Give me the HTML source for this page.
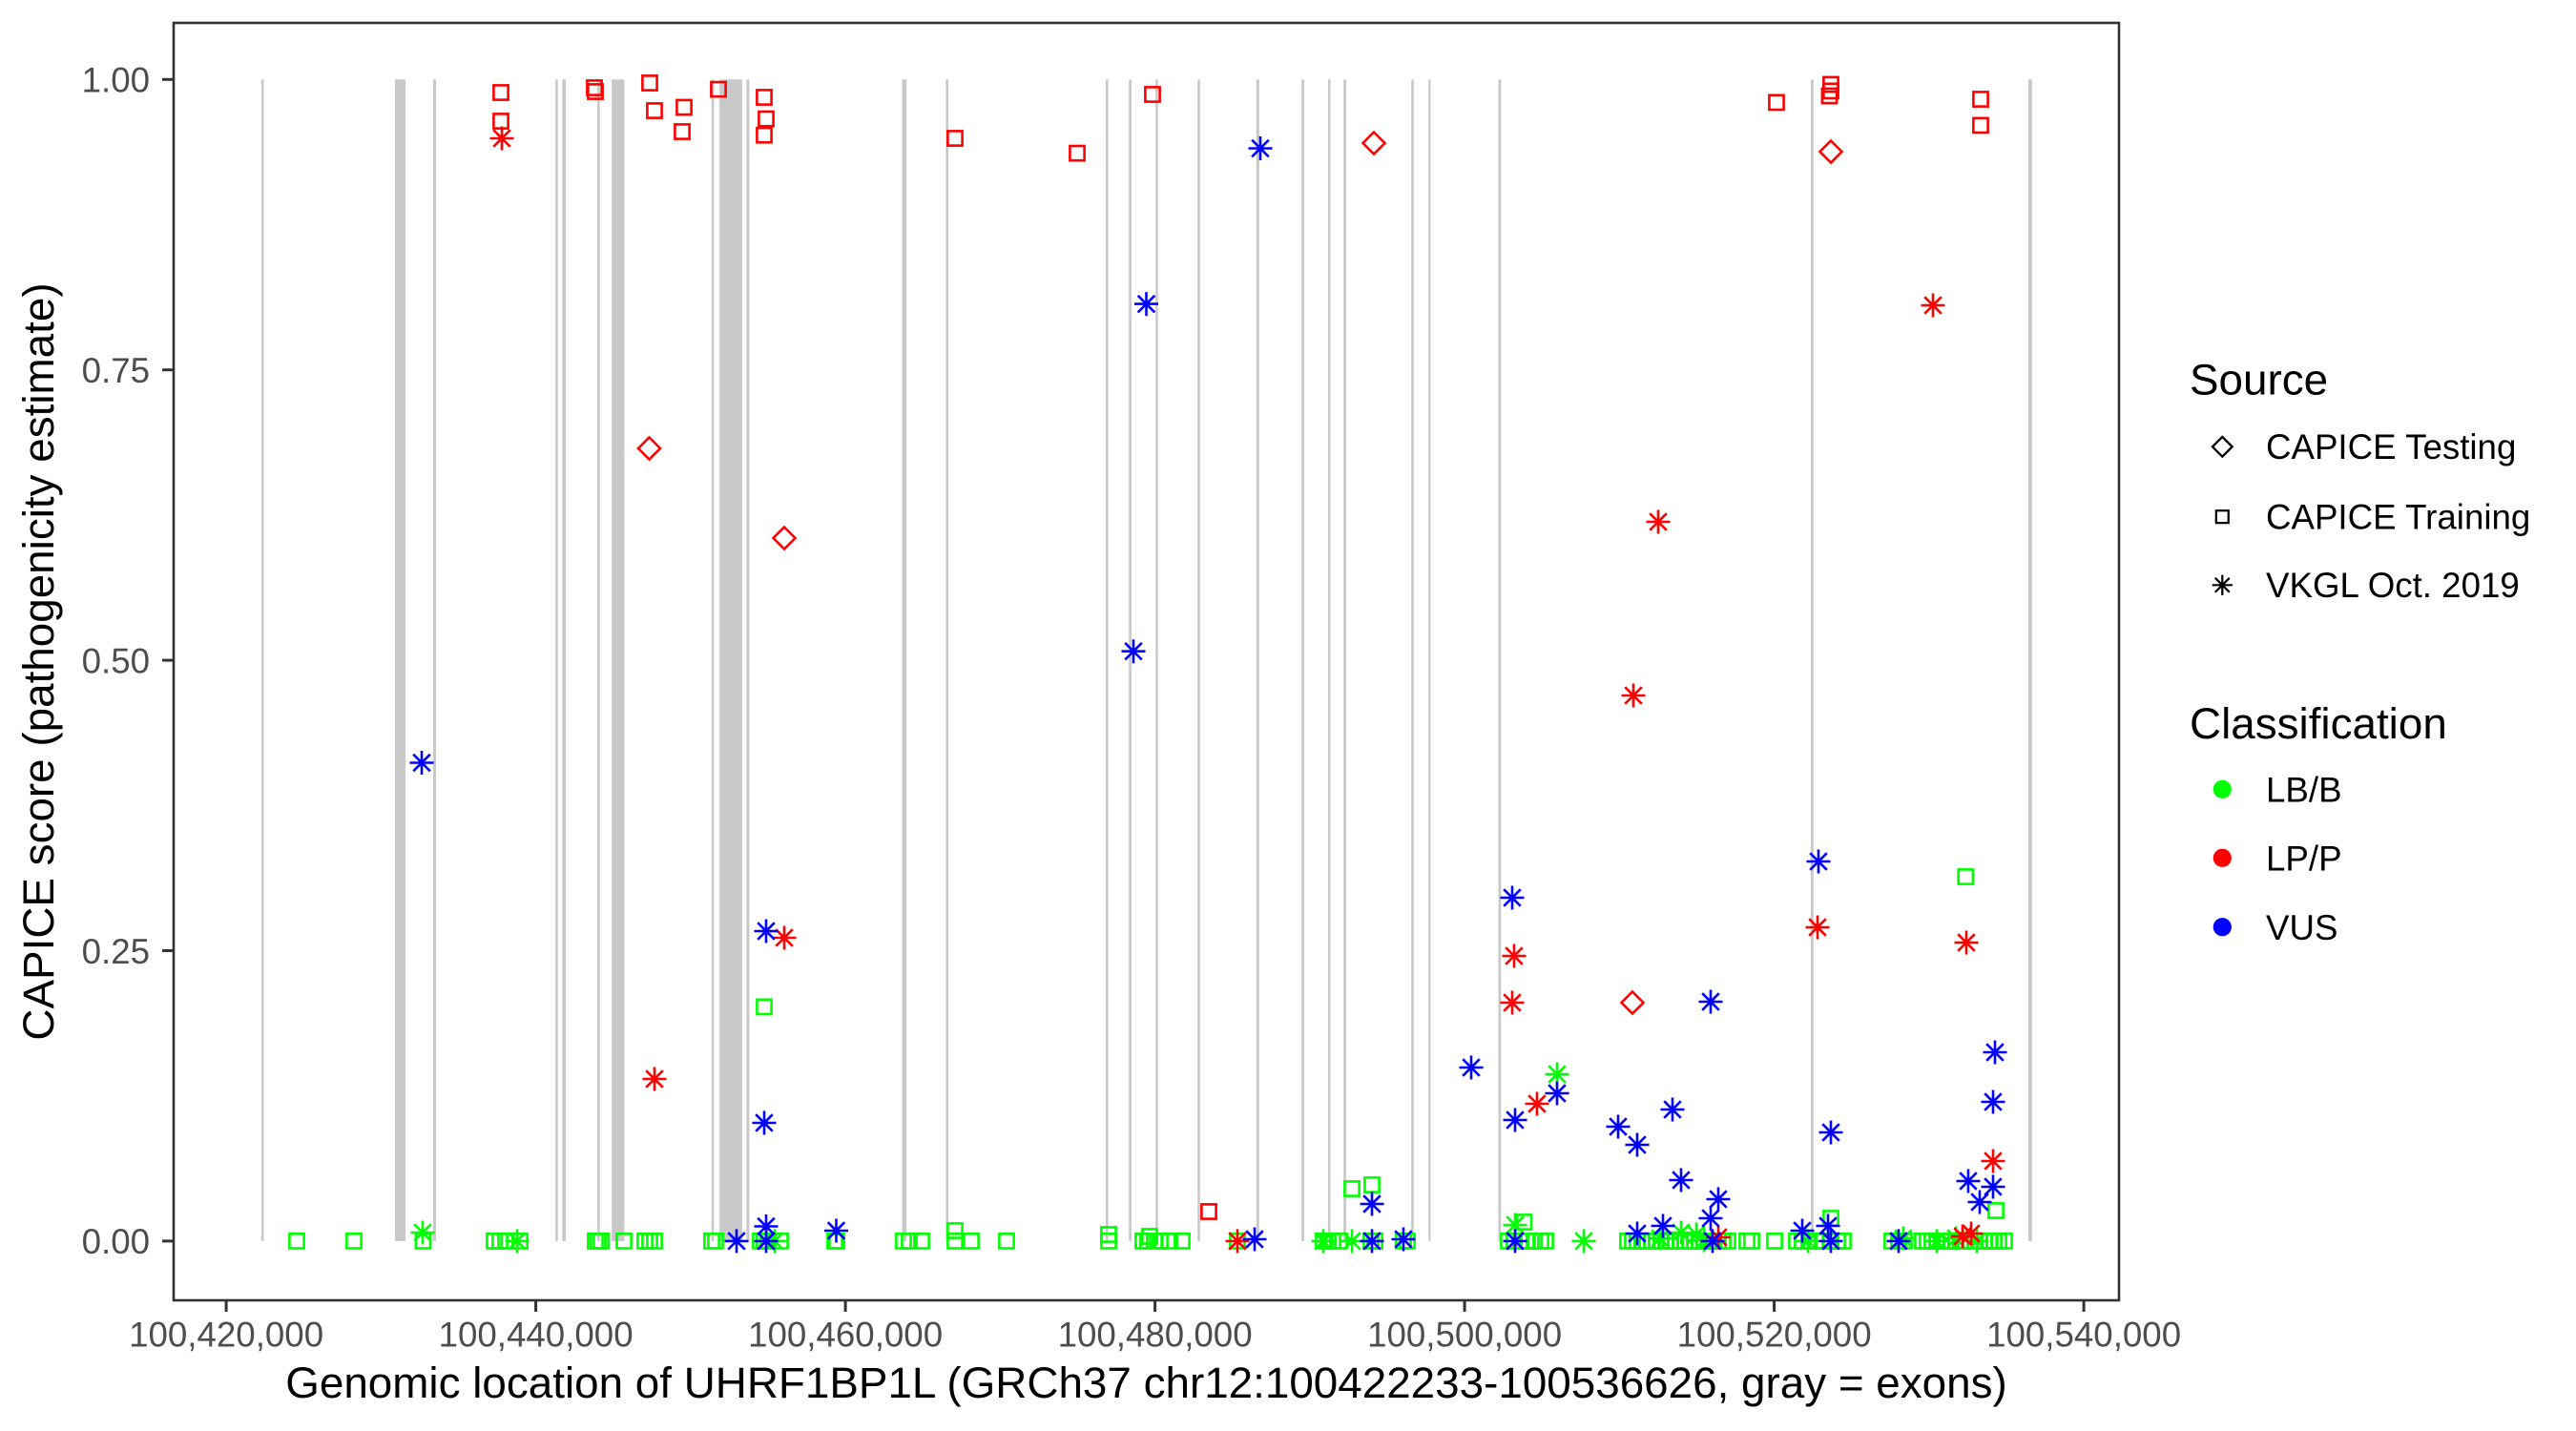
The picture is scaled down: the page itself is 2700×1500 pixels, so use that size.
<!DOCTYPE html>
<html><head><meta charset="utf-8"><style>
html,body{margin:0;padding:0;background:#fff;}
svg{display:block;}
text{font-family:"Liberation Sans",Arial,sans-serif;}
</style></head><body>
<svg width="2700" height="1500" viewBox="0 0 2700 1500" xmlns="http://www.w3.org/2000/svg">
<defs>
<rect id="s" x="-7.6" y="-7.6" width="15.2" height="15.2" fill="none"/>
<path id="d" d="M0,-11.5L11.5,0L0,11.5L-11.5,0Z" fill="none"/>
<path id="a" d="M-8.8,-8.8L8.8,8.8M-8.8,8.8L8.8,-8.8M-12.5,0H12.5M0,-12.5V12.5" fill="none"/>
</defs>
<rect width="2700" height="1500" fill="#fff"/>
<!-- exons -->
<g fill="#c8c8c8">
<rect x="274" y="83.3" width="2.5" height="1217.6"/>
<rect x="414" y="83.3" width="11" height="1217.6"/>
<rect x="454" y="83.3" width="3" height="1217.6"/>
<rect x="582.2" y="83.3" width="2.5" height="1217.6"/>
<rect x="589.3" y="83.3" width="3.8" height="1217.6"/>
<rect x="626.1" y="83.3" width="2.6" height="1217.6"/>
<rect x="641.2" y="83.3" width="13.2" height="1217.6"/>
<rect x="745.8" y="83.3" width="2.5" height="1217.6"/>
<rect x="754.2" y="83.3" width="23.7" height="1217.6"/>
<rect x="782.4" y="83.3" width="3" height="1217.6"/>
<rect x="945.5" y="83.3" width="4.6" height="1217.6"/>
<rect x="991.4" y="83.3" width="2.6" height="1217.6"/>
<rect x="1159" y="83.3" width="2.6" height="1217.6"/>
<rect x="1183.3" y="83.3" width="2.6" height="1217.6"/>
<rect x="1211.2" y="83.3" width="2.5" height="1217.6"/>
<rect x="1255.2" y="83.3" width="2.6" height="1217.6"/>
<rect x="1316.8" y="83.3" width="3" height="1217.6"/>
<rect x="1364.2" y="83.3" width="2.8" height="1217.6"/>
<rect x="1392" y="83.3" width="2.5" height="1217.6"/>
<rect x="1408.2" y="83.3" width="2.8" height="1217.6"/>
<rect x="1479.2" y="83.3" width="2.6" height="1217.6"/>
<rect x="1497.2" y="83.3" width="2.3" height="1217.6"/>
<rect x="1570.5" y="83.3" width="2.8" height="1217.6"/>
<rect x="1898" y="83.3" width="2.8" height="1217.6"/>
<rect x="2126" y="83.3" width="3.8" height="1217.6"/>
</g>
<!-- green points -->
<g stroke="#00ff00" stroke-width="2.6">
<use href="#s" x="311" y="1300.9"/><use href="#s" x="371" y="1300.9"/><use href="#s" x="443.5" y="1300.9"/>
<use href="#s" x="518" y="1300.9"/><use href="#s" x="524" y="1300.9"/><use href="#s" x="530" y="1300.9"/><use href="#s" x="545" y="1300.9"/>
<use href="#s" x="624" y="1300.9"/><use href="#s" x="627" y="1300.9"/><use href="#s" x="630" y="1300.9"/><use href="#s" x="654" y="1300.9"/>
<use href="#s" x="676" y="1300.9"/><use href="#s" x="681" y="1300.9"/><use href="#s" x="686" y="1300.9"/><use href="#s" x="746" y="1300.9"/><use href="#s" x="750" y="1300.9"/>
<use href="#s" x="797" y="1300.9"/><use href="#s" x="801" y="1300.9"/><use href="#s" x="805" y="1300.9"/><use href="#s" x="818" y="1300.9"/>
<use href="#s" x="875" y="1300.9"/><use href="#s" x="877" y="1300.9"/><use href="#s" x="947" y="1300.9"/><use href="#s" x="953" y="1300.9"/><use href="#s" x="966" y="1300.9"/>
<use href="#s" x="1001" y="1300.9"/><use href="#s" x="1001" y="1290"/><use href="#s" x="1018" y="1300.9"/><use href="#s" x="1055" y="1300.9"/>
<use href="#s" x="1162" y="1300.9"/><use href="#s" x="1162" y="1294"/><use href="#s" x="1198" y="1300.9"/><use href="#s" x="1203" y="1300.9"/>
<use href="#s" x="1205" y="1296"/><use href="#s" x="1210" y="1300.9"/><use href="#s" x="1216" y="1300.9"/><use href="#s" x="1226" y="1300.9"/><use href="#s" x="1239" y="1300.9"/>
<use href="#s" x="1297" y="1300.9"/><use href="#s" x="1387" y="1300.9"/><use href="#s" x="1392" y="1300.9"/><use href="#s" x="1397" y="1300.9"/><use href="#s" x="1404" y="1300.9"/>
<use href="#s" x="1437" y="1300.9"/><use href="#s" x="1441" y="1300.9"/><use href="#s" x="1471" y="1300.9"/><use href="#s" x="1475" y="1300.9"/>
<use href="#s" x="1581" y="1300.9"/><use href="#s" x="1587" y="1300.9"/><use href="#s" x="1594" y="1300.9"/><use href="#s" x="1601" y="1300.9"/><use href="#s" x="1608" y="1300.9"/><use href="#s" x="1615" y="1300.9"/><use href="#s" x="1620" y="1300.9"/>
<use href="#s" x="1706" y="1300.9"/><use href="#s" x="1711" y="1300.9"/><use href="#s" x="1716" y="1300.9"/><use href="#s" x="1721" y="1300.9"/><use href="#s" x="1726" y="1300.9"/><use href="#s" x="1731" y="1300.9"/><use href="#s" x="1736" y="1300.9"/><use href="#s" x="1741" y="1300.9"/><use href="#s" x="1746" y="1300.9"/><use href="#s" x="1751" y="1300.9"/><use href="#s" x="1756" y="1300.9"/>
<use href="#s" x="1761" y="1300.9"/><use href="#s" x="1766" y="1300.9"/><use href="#s" x="1771" y="1300.9"/><use href="#s" x="1776" y="1300.9"/><use href="#s" x="1781" y="1300.9"/><use href="#s" x="1786" y="1300.9"/><use href="#s" x="1791" y="1300.9"/><use href="#s" x="1796" y="1300.9"/><use href="#s" x="1801" y="1300.9"/><use href="#s" x="1806" y="1300.9"/><use href="#s" x="1811" y="1300.9"/>
<use href="#s" x="1831" y="1300.9"/><use href="#s" x="1836" y="1300.9"/><use href="#s" x="1860" y="1300.9"/><use href="#s" x="1883" y="1300.9"/><use href="#s" x="1889" y="1300.9"/><use href="#s" x="1896" y="1300.9"/><use href="#s" x="1903" y="1300.9"/><use href="#s" x="1910" y="1300.9"/><use href="#s" x="1919" y="1300.9"/><use href="#s" x="1926" y="1300.9"/><use href="#s" x="1932" y="1300.9"/>
<use href="#s" x="1983" y="1300.9"/><use href="#s" x="1990" y="1300.9"/><use href="#s" x="1996" y="1300.9"/>
<use href="#s" x="2015" y="1300.9"/><use href="#s" x="2020" y="1300.9"/><use href="#s" x="2025" y="1300.9"/><use href="#s" x="2030" y="1300.9"/><use href="#s" x="2035" y="1300.9"/><use href="#s" x="2040" y="1300.9"/><use href="#s" x="2045" y="1300.9"/><use href="#s" x="2050" y="1300.9"/><use href="#s" x="2055" y="1300.9"/><use href="#s" x="2060" y="1300.9"/><use href="#s" x="2065" y="1300.9"/><use href="#s" x="2070" y="1300.9"/><use href="#s" x="2075" y="1300.9"/><use href="#s" x="2080" y="1300.9"/><use href="#s" x="2085" y="1300.9"/><use href="#s" x="2090" y="1300.9"/><use href="#s" x="2095" y="1300.9"/><use href="#s" x="2101" y="1300.9"/>
<use href="#s" x="2060.3" y="919"/><use href="#s" x="801" y="1055.4"/><use href="#s" x="1417" y="1246"/><use href="#s" x="1438" y="1242"/>
<use href="#s" x="1597.5" y="1281"/><use href="#s" x="1919" y="1277"/><use href="#s" x="2092" y="1269"/>
<use href="#a" x="443" y="1292"/><use href="#a" x="542" y="1300.9"/><use href="#a" x="812" y="1300.9"/><use href="#a" x="1387" y="1300.9"/><use href="#a" x="1417" y="1300.9"/>
<use href="#a" x="1588" y="1284"/><use href="#a" x="1660" y="1300.9"/><use href="#a" x="1632" y="1126"/>
<use href="#a" x="1740" y="1298"/><use href="#a" x="1762" y="1292"/><use href="#a" x="1778" y="1294"/><use href="#a" x="1786" y="1300"/>
<use href="#a" x="1895" y="1300.9"/><use href="#a" x="1995" y="1298"/><use href="#a" x="2030" y="1300.9"/><use href="#a" x="2050" y="1298"/><use href="#a" x="2072" y="1300.9"/>
</g>
<!-- red points -->
<g stroke="#ff0000" stroke-width="2.6">
<use href="#s" x="525" y="97"/><use href="#s" x="525" y="127"/><use href="#s" x="623" y="92"/><use href="#s" x="624" y="96"/>
<use href="#s" x="681" y="87"/><use href="#s" x="686" y="116"/><use href="#s" x="717" y="112.5"/><use href="#s" x="715" y="138"/>
<use href="#s" x="753" y="93.6"/><use href="#s" x="801" y="102"/><use href="#s" x="803" y="124.6"/><use href="#s" x="801" y="141.7"/>
<use href="#s" x="1001" y="145"/><use href="#s" x="1129" y="160.6"/><use href="#s" x="1208" y="99"/><use href="#s" x="1862" y="107.4"/>
<use href="#s" x="1919" y="88.5"/><use href="#s" x="1919" y="95.4"/><use href="#s" x="1917.5" y="100.5"/>
<use href="#s" x="2076" y="104"/><use href="#s" x="2076" y="131.4"/><use href="#s" x="1267" y="1270"/>
<use href="#a" x="526" y="145"/><use href="#a" x="686" y="1131"/><use href="#a" x="822" y="983"/><use href="#a" x="1297" y="1300.9"/>
<use href="#a" x="1587" y="1002"/><use href="#a" x="1585" y="1051"/><use href="#a" x="1611" y="1157"/><use href="#a" x="1712" y="729"/>
<use href="#a" x="1738" y="547"/><use href="#a" x="1905" y="972"/><use href="#a" x="2061" y="988"/><use href="#a" x="2089" y="1217"/>
<use href="#a" x="2026" y="320"/><use href="#a" x="1801" y="1297"/><use href="#a" x="2057" y="1296"/><use href="#a" x="2066" y="1293"/>
<use href="#d" x="1440" y="150"/><use href="#d" x="680.5" y="470"/><use href="#d" x="822" y="564"/><use href="#d" x="1711" y="1051"/><use href="#d" x="1919" y="159"/>
</g>
<!-- blue points -->
<g stroke="#0000ff" stroke-width="2.6">
<use href="#a" x="442" y="799.5"/><use href="#a" x="1321" y="155.5"/><use href="#a" x="1201.5" y="318.6"/><use href="#a" x="1188" y="682.7"/>
<use href="#a" x="803" y="976"/><use href="#a" x="801" y="1177"/><use href="#a" x="803" y="1285.5"/><use href="#a" x="803" y="1300.9"/>
<use href="#a" x="772" y="1300.9"/><use href="#a" x="876.5" y="1290"/><use href="#a" x="1315" y="1299"/><use href="#a" x="1438" y="1262"/>
<use href="#a" x="1438" y="1300.9"/><use href="#a" x="1471" y="1299"/><use href="#a" x="1585" y="941"/><use href="#a" x="1542" y="1119"/>
<use href="#a" x="1632" y="1146"/><use href="#a" x="1588" y="1174"/><use href="#a" x="1696" y="1181"/><use href="#a" x="1716" y="1200"/>
<use href="#a" x="1753" y="1163"/><use href="#a" x="1762" y="1237"/><use href="#a" x="1801" y="1257"/><use href="#a" x="1793" y="1050"/>
<use href="#a" x="1906" y="903"/><use href="#a" x="2091" y="1103"/><use href="#a" x="2089" y="1155"/><use href="#a" x="1919" y="1187"/>
<use href="#a" x="2063" y="1238"/><use href="#a" x="2089" y="1244"/><use href="#a" x="2075" y="1260"/><use href="#a" x="1793" y="1277"/>
<use href="#a" x="1916" y="1285"/><use href="#a" x="1743" y="1285"/><use href="#a" x="1889" y="1290"/><use href="#a" x="1716" y="1293"/>
<use href="#a" x="1588" y="1300.9"/><use href="#a" x="1795" y="1300.9"/><use href="#a" x="1919" y="1300.9"/><use href="#a" x="1990" y="1300.9"/>
</g>
<!-- panel border -->
<rect x="182" y="24" width="2039" height="1339" fill="none" stroke="#333333" stroke-width="2.6"/>
<!-- ticks -->
<g stroke="#333333" stroke-width="3">
<line x1="170" y1="83.3" x2="182" y2="83.3"/><line x1="170" y1="387.7" x2="182" y2="387.7"/><line x1="170" y1="692.1" x2="182" y2="692.1"/><line x1="170" y1="996.5" x2="182" y2="996.5"/><line x1="170" y1="1300.9" x2="182" y2="1300.9"/>
<line x1="237.1" y1="1363" x2="237.1" y2="1375"/><line x1="561.6" y1="1363" x2="561.6" y2="1375"/><line x1="886.1" y1="1363" x2="886.1" y2="1375"/><line x1="1210.6" y1="1363" x2="1210.6" y2="1375"/><line x1="1535.1" y1="1363" x2="1535.1" y2="1375"/><line x1="1859.6" y1="1363" x2="1859.6" y2="1375"/><line x1="2184.1" y1="1363" x2="2184.1" y2="1375"/>
</g>
<g fill="#4d4d4d" font-size="36.7" text-anchor="end">
<text x="157" y="96.6">1.00</text><text x="157" y="401">0.75</text><text x="157" y="705.4">0.50</text><text x="157" y="1009.8">0.25</text><text x="157" y="1314.2">0.00</text>
</g>
<g fill="#4d4d4d" font-size="36.7" text-anchor="middle">
<text x="237.1" y="1411.5">100,420,000</text><text x="561.6" y="1411.5">100,440,000</text><text x="886.1" y="1411.5">100,460,000</text><text x="1210.6" y="1411.5">100,480,000</text><text x="1535.1" y="1411.5">100,500,000</text><text x="1859.6" y="1411.5">100,520,000</text><text x="2184.1" y="1411.5">100,540,000</text>
</g>
<text x="1201.5" y="1465" font-size="45.8" text-anchor="middle" fill="#000">Genomic location of UHRF1BP1L (GRCh37 chr12:100422233-100536626, gray = exons)</text>
<text transform="translate(56,693.5) rotate(-90)" font-size="45.8" text-anchor="middle" fill="#000">CAPICE score (pathogenicity estimate)</text>
<!-- legend -->
<text x="2295" y="413.3" font-size="45.8" fill="#000">Source</text>
<g stroke="#000" stroke-width="2.6">
<use href="#d" x="2329.3" y="468.3" transform="translate(2329.3,468.3) scale(0.9) translate(-2329.3,-468.3)"/>
<use href="#s" x="2329.3" y="541.7" transform="translate(2329.3,541.7) scale(0.85) translate(-2329.3,-541.7)"/>
<use href="#a" x="2329.3" y="613.3" transform="translate(2329.3,613.3) scale(0.85) translate(-2329.3,-613.3)"/>
</g>
<g font-size="36.7" fill="#000">
<text x="2375" y="481">CAPICE Testing</text>
<text x="2375" y="554.4">CAPICE Training</text>
<text x="2375" y="626">VKGL Oct. 2019</text>
</g>
<text x="2295" y="774" font-size="45.8" fill="#000">Classification</text>
<circle cx="2329.3" cy="827.3" r="9.6" fill="#00ff00"/>
<circle cx="2329.3" cy="899.3" r="9.6" fill="#ff0000"/>
<circle cx="2329.3" cy="971.7" r="9.6" fill="#0000ff"/>
<g font-size="36.7" fill="#000">
<text x="2375" y="840.5">LB/B</text>
<text x="2375" y="912.5">LP/P</text>
<text x="2375" y="985">VUS</text>
</g>
</svg>
</body></html>
